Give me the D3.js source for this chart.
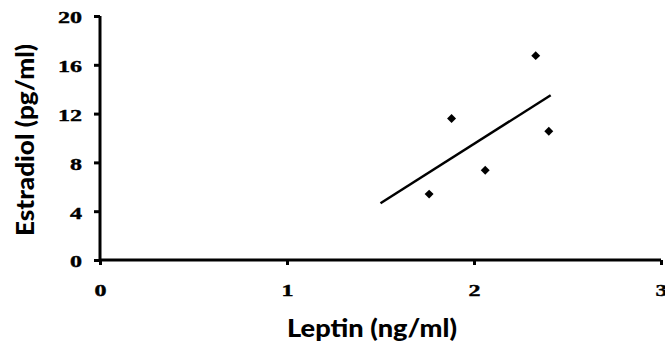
<!DOCTYPE html>
<html><head><meta charset="utf-8">
<script src="https://cdn.jsdelivr.net/npm/d3@7"></script>
<style>body{margin:0;background:#fff}svg{display:block}</style>
</head><body>
<script>
const leptin = [1.76, 1.88, 2.06, 2.33, 2.40];
const estradiol = [5.4, 11.6, 7.35, 16.75, 10.55];
const trendX = [1.5, 2.41];
const trendY = [4.65, 13.5];
const xTicks = [0, 1, 2, 3];
const yTicks = [0, 4, 8, 12, 16, 20];

const W = 665, H = 346;
const svg = d3.select("body").append("svg").attr("width", W).attr("height", H);
const x = d3.scaleLinear().domain([0, 3]).range([100, 661]);
const y = d3.scaleLinear().domain([0, 20]).range([260, 16]);

const serif = "'Liberation Serif','Times New Roman',serif";
const sans = "Lato,'Open Sans',sans-serif";

const xa = svg.append("g").attr("transform", "translate(0,260)")
  .call(d3.axisBottom(x).tickValues(xTicks).tickSize(5).tickPadding(19).tickFormat(d3.format("d")));
const ya = svg.append("g").attr("transform", "translate(100,0)")
  .call(d3.axisLeft(y).tickValues(yTicks).tickSize(6).tickPadding(12).tickFormat(d3.format("d")));
[xa, ya].forEach(a => {
  a.select(".domain").attr("stroke", "#000").attr("stroke-width", 3);
  a.selectAll(".tick line").attr("stroke", "#000").attr("stroke-width", 3);
  a.selectAll(".tick text").attr("fill", "#000").attr("stroke", "#000").attr("stroke-width", 0.4)
    .attr("font-family", serif).attr("font-weight", "bold").attr("font-size", 17)
    .attr("textLength", function () { return 12 * this.textContent.length; })
    .attr("lengthAdjust", "spacingAndGlyphs");
});
ya.selectAll(".tick text").attr("dy", "0.4em");
xa.select(".domain").attr("d", "M100,0H661");
ya.select(".domain").attr("d", "M0,16V260");

svg.append("line")
  .attr("x1", x(trendX[0])).attr("y1", y(trendY[0]))
  .attr("x2", x(trendX[1])).attr("y2", y(trendY[1]))
  .attr("stroke", "#000").attr("stroke-width", 2.5);

svg.append("g").selectAll("path").data(leptin).join("path")
  .attr("transform", (d, i) => `translate(${x(d)},${y(estradiol[i])}) rotate(45)`)
  .attr("d", d3.symbol().type(d3.symbolSquare).size(40))
  .attr("fill", "#000");

svg.append("text").attr("x", 372).attr("y", 337).attr("text-anchor", "middle")
  .attr("font-family", sans).attr("font-weight", 900).attr("font-size", 24)
  .attr("textLength", 170).attr("lengthAdjust", "spacingAndGlyphs")
  .text("Leptin (ng/ml)");
svg.append("text").attr("transform", "translate(34,140) rotate(-90)").attr("text-anchor", "middle")
  .attr("font-family", sans).attr("font-weight", 900).attr("font-size", 25)
  .attr("textLength", 192).attr("lengthAdjust", "spacingAndGlyphs")
  .text("Estradiol (pg/ml)");
</script>
</body></html>
